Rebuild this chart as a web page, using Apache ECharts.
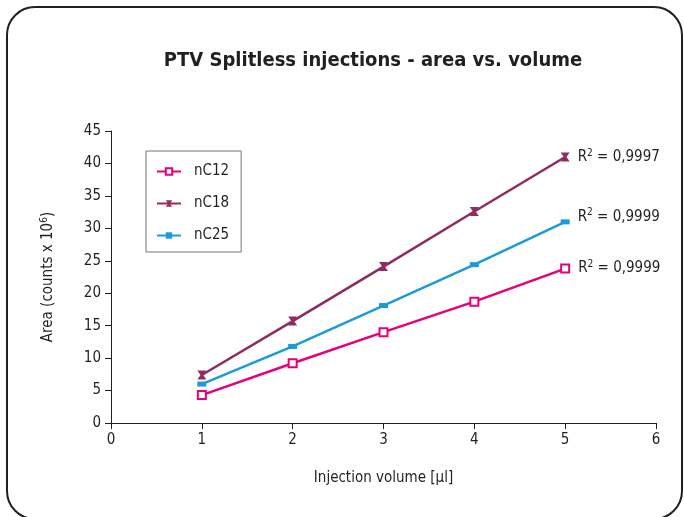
<!DOCTYPE html>
<html><head><meta charset="utf-8">
<script src="https://cdn.jsdelivr.net/npm/echarts@6/dist/echarts.min.js"></script>
<style>html,body{margin:0;padding:0;background:#fff}#c{width:684px;height:517px}</style>
</head><body><div id="c"></div>
<script>
const volumes = [1, 2, 3, 4, 5];
const nC12 = [4.3, 9.2, 14.0, 18.7, 23.8];
const nC18 = [7.4, 15.7, 24.1, 32.6, 41.0];
const nC25 = [6.0, 11.8, 18.1, 24.4, 31.0];
const r2Labels = ['0,9999', '0,9997', '0,9999'];
const xTicks = [0, 1, 2, 3, 4, 5, 6];
const yTicks = [0, 5, 10, 15, 20, 25, 30, 35, 40, 45];

const FONT = '"Liberation Sans Narrow", "DejaVu Sans Condensed", sans-serif';
const TXT = '#231f20';
const pairs = arr => volumes.map((v, i) => [v, arr[i]]);
const withLabel = (arr, r2, offY) => pairs(arr).map((p, i) => i === arr.length - 1 ? {
  value: p,
  label: {
    show: true, position: 'right', distance: 8, offset: [0, offY],
    formatter: 'R{s|2} = ' + r2,
    fontFamily: FONT, fontSize: 15, color: TXT,
    rich: { s: { fontSize: 10, verticalAlign: 'top', padding: [0, 0, 8, 0], fontFamily: FONT, color: TXT } }
  }
} : p);

const chart = echarts.init(document.getElementById('c'), null, { renderer: 'canvas' });
chart.setOption({
  backgroundColor: '#fff',
  animation: false,
  graphic: [{
    type: 'rect', silent: true, z: -1,
    shape: { x: 7, y: 7, width: 675, height: 512, r: 28 },
    style: { fill: 'none', stroke: '#231f20', lineWidth: 2 }
  }],
  title: {
    text: 'PTV Splitless injections - area vs. volume',
    left: 368, top: 46, textAlign: 'center',
    textStyle: { fontFamily: FONT, fontSize: 20, fontWeight: 'bold', color: TXT }
  },
  legend: {
    orient: 'vertical', left: 146, top: 151,
    padding: [13, 12, 9, 10],
    itemWidth: 24, itemHeight: 8, itemGap: 17,
    borderColor: '#777', borderWidth: 1,
    textStyle: { fontFamily: FONT, fontSize: 15, color: TXT, padding: [0, 0, 0, 8] },
    data: ['nC12', 'nC18', 'nC25']
  },
  grid: { left: 111, right: 28, top: 131, bottom: 94 },
  xAxis: {
    type: 'value', min: xTicks[0], max: xTicks[xTicks.length - 1], interval: 1,
    name: 'Injection volume [µl]', nameLocation: 'middle', nameGap: 48,
    nameTextStyle: { fontFamily: FONT, fontSize: 15, color: TXT },
    axisLine: { lineStyle: { color: '#231f20', width: 1 } },
    axisTick: { show: true, length: 6, lineStyle: { color: '#231f20' } },
    axisLabel: { fontFamily: FONT, fontSize: 15, color: TXT, margin: 10 },
    splitLine: { show: false }
  },
  yAxis: {
    type: 'value', min: yTicks[0], max: yTicks[yTicks.length - 1], interval: 5,
    name: 'Area (counts x 10{s|6})', nameLocation: 'middle', nameGap: 54,
    nameTextStyle: { fontFamily: FONT, fontSize: 15, color: TXT,
      rich: { s: { fontSize: 10, verticalAlign: 'top', padding: [0, 0, 8, 0], fontFamily: FONT, color: TXT } } },
    axisLine: { show: true, lineStyle: { color: '#231f20', width: 1 } },
    axisTick: { show: true, length: 6, lineStyle: { color: '#231f20' } },
    axisLabel: { fontFamily: FONT, fontSize: 15, color: TXT, margin: 10 },
    splitLine: { show: false }
  },
  series: [
    {
      name: 'nC12', type: 'line', data: withLabel(nC12, r2Labels[0], 0),
      symbol: 'rect', symbolSize: 8, showAllSymbol: true,
      lineStyle: { color: '#e5007d', width: 2.5 },
      itemStyle: { color: '#fff', borderColor: '#e5007d', borderWidth: 2 }
    },
    {
      name: 'nC18', type: 'line', data: withLabel(nC18, r2Labels[1], 0),
      symbol: 'path://M0,0L10,0L6.5,5L10,10L0,10L3.5,5Z', symbolSize: 9,
      lineStyle: { color: '#8e2c62', width: 2.5 },
      itemStyle: { color: '#8e2c62' }
    },
    {
      name: 'nC25', type: 'line', data: withLabel(nC25, r2Labels[2], -5),
      symbol: 'rect', symbolSize: [9, 5],
      lineStyle: { color: '#1b9bd7', width: 2.5 },
      itemStyle: { color: '#1b9bd7' }
    }
  ]
});
</script></body></html>
